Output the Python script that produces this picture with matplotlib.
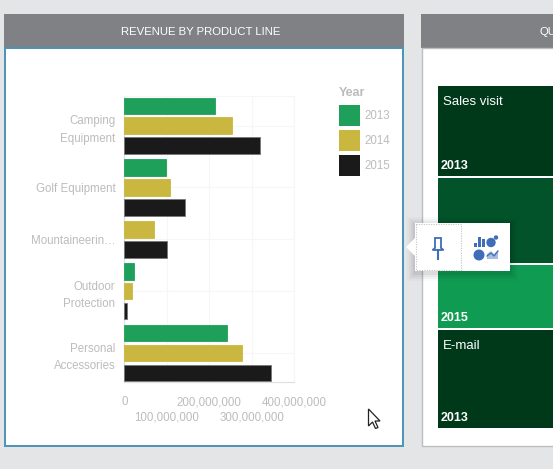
# Revenue by product line: dashboard screenshot with the bar widget in front
import numpy as np
import matplotlib
matplotlib.use('Agg')
import matplotlib.pyplot as plt
from matplotlib.patches import Rectangle, Polygon, Circle

plt.rcParams['font.family'] = ['Liberation Sans', 'DejaVu Sans']

# ── Data ─────────────────────────────────────────────────────
categories = ['Camping\nEquipment', 'Golf Equipment', 'Mountaineerin…',
              'Outdoor\nProtection', 'Personal\nAccessories']
years = ['2013', '2014', '2015']
rev_2013 = [213e6, 99e6, None, 24e6, 241e6]
rev_2014 = [255e6, 107e6, 69e6, 17e6, 277e6]
rev_2015 = [321e6, 143e6, 101e6, 7e6, 346e6]
x_ticks = [0, 100e6, 200e6, 300e6, 400e6]
x_labels = ['0', '100,000,000', '200,000,000', '300,000,000', '400,000,000']

# second widget, only its left edge is on screen
cell_labels = ['Sales visit', '', '', 'E-mail']
cell_years = ['2013', '', '2015', '2013']
cell_sizes = [90, 85, 63, 98]

# ── Colours ──────────────────────────────────────────────────
page_bg = '#e4e5e7'
header_bg = '#808184'
text_gray = '#bcbcbc'
year_colors = ['#1fa05a', '#c9b73f', '#1a1a1a']
year_edges = ['#1fa05a', '#c9b73f', '#777777']
cell_colors = ['#00391a', '#03532a', '#0f9c52', '#00391a']
icon_blue = '#3f6db8'

W, H = 553, 469
fig = plt.figure(figsize=(W / 100, H / 100), dpi=100, facecolor=page_bg)

# page layer works in screen pixels, y going down
page = fig.add_axes([0, 0, 1, 1])
page.set_xlim(0, W)
page.set_ylim(H, 0)
page.axis('off')

def rect(ax, x0, y0, x1, y1, color, **kw):
    ax.add_patch(Rectangle((x0, y0), x1 - x0, y1 - y0, facecolor=color,
                           edgecolor=kw.pop('edgecolor', 'none'), **kw))

# ── Left panel ───────────────────────────────────────────────
rect(page, 4, 14, 404, 48, header_bg)
rect(page, 5, 48.5, 403, 446, 'white', edgecolor='#4b93b5', linewidth=1.4)
page.text(201, 32, 'REVENUE BY PRODUCT LINE', color='white', fontsize=8.2,
          ha='center', va='center')

# ── Right panel ──────────────────────────────────────────────
rect(page, 421, 14, 560, 48, header_bg)
rect(page, 421.5, 48, 560, 446, 'white', edgecolor='#bcbec0', linewidth=1)
page.text(539.5, 32, 'QU', color='white', fontsize=8.2, va='center')

# treemap cells stacked down from the top of the widget
cell_top = 86
for label, year, size, color in zip(cell_labels, cell_years, cell_sizes, cell_colors):
    rect(page, 438, cell_top, 560, cell_top + size, color)
    if label:
        page.text(443, cell_top + 16, label, color='white', fontsize=9.5, va='center')
    if year:
        page.text(441, cell_top + size - 10, year, color='white', fontsize=9,
                  fontweight='bold', va='center')
    cell_top += size + 2

# ── Bar chart ────────────────────────────────────────────────
ax_left, ax_right, ax_top, ax_bottom = 124.3, 294, 96, 382
ax = fig.add_axes([ax_left / W, 1 - ax_bottom / H,
                   (ax_right - ax_left) / W, (ax_bottom - ax_top) / H])
ax.patch.set_alpha(0)

# groups have no slot for a missing year, so walk down bar by bar
series = [rev_2013, rev_2014, rev_2015]
pos = ax_top + 9.8
centers = []
for i in range(len(categories)):
    group = []
    for j, values in enumerate(series):
        if values[i] is None:
            continue
        ax.barh(pos, values[i], height=16.4, color=year_colors[j],
                edgecolor=year_edges[j], linewidth=0.6, zorder=3)
        group.append(pos)
        pos += 19.9
    centers.append(np.mean(group))
    pos += 2.1

ax.set_xlim(0, 400e6)
ax.set_ylim(ax_bottom, ax_top)
ax.set_yticks(centers)
ax.set_yticklabels(categories, color=text_gray, fontsize=8.3, linespacing=1.6)
ax.set_xticks(x_ticks)
ax.set_xticklabels(x_labels, color=text_gray, fontsize=8.3)
ax.tick_params(axis='y', length=0, pad=6.5)
ax.tick_params(axis='x', length=0)

# every second x label drops to a lower row
for k, tick in enumerate(ax.xaxis.get_major_ticks()):
    tick.set_pad(10.2 if k % 2 == 0 else 21.2)

ax.grid(color='#f6f6f6', linewidth=0.8, zorder=0)
ax.set_axisbelow(True)
for side in ['top', 'right']:
    ax.spines[side].set_color('#f6f6f6')
    ax.spines[side].set_linewidth(0.8)
for side in ['left', 'bottom']:
    ax.spines[side].set_color('#e0e0e0')
    ax.spines[side].set_linewidth(0.9)

# ── Legend ───────────────────────────────────────────────────
page.text(339, 93, 'Year', color=text_gray, fontsize=8.9, fontweight='bold', va='center')
for j, year in enumerate(years):
    rect(page, 339, 105 + 25 * j, 360, 126 + 25 * j, year_colors[j])
    page.text(364.5, 116 + 25 * j, year, color=text_gray, fontsize=8.3, va='center')

# ── Popover with pin and chart type icons ────────────────────
top = fig.add_axes([0, 0, 1, 1])
top.set_xlim(0, W)
top.set_ylim(H, 0)
top.axis('off')
top.patch.set_alpha(0)

# soft shadow
for grow, alpha in zip([8, 6, 4, 2], [0.02, 0.03, 0.04, 0.05]):
    rect(top, 415 - grow, 223 - grow + 2, 510 + grow, 271 + grow + 2, 'black', alpha=alpha)
rect(top, 415, 223, 510, 271, 'white')
top.add_patch(Polygon([[406, 247], [415, 238], [415, 256]], facecolor='white', edgecolor='none'))
rect(top, 415.5, 224.5, 461, 270.5, 'white', edgecolor='#c4c4c4',
     linewidth=0.8, linestyle=(0, (1, 1.2)))

# pin
top.add_patch(Polygon([[435, 238], [441, 238], [441, 248], [443.5, 250], [432.5, 250], [435, 248]],
                      facecolor='white', edgecolor=icon_blue, linewidth=1.3))
top.plot([438, 438], [250, 259], color=icon_blue, linewidth=1.5)

# chart type icon: bars, dot, pie and area
for bx, by in zip([473.5, 477.5, 481.5], [243, 237, 239]):
    rect(top, bx, by, bx + 3, 247, icon_blue)
top.add_patch(Circle((491, 242.5), 4, color=icon_blue))
top.add_patch(Circle((496, 237.5), 1.5, color=icon_blue))
top.add_patch(Circle((479, 255), 4.8, color=icon_blue))
top.add_patch(Polygon([[487, 259], [487, 254], [491, 251], [494, 254], [498, 250], [498, 259]],
                      facecolor='#a9bde0', edgecolor='none'))
top.plot([487, 491, 494, 498], [256, 253, 256, 251], color=icon_blue, linewidth=0.9)

# ── Mouse cursor ─────────────────────────────────────────────
top.add_patch(Polygon([[368.5, 409], [368.5, 426], [372.5, 422], [375.5, 428.5],
                       [378, 427.5], [375, 421], [380, 421]],
                      facecolor='white', edgecolor='#222222', linewidth=0.9))

fig.savefig('out.png', dpi=100, facecolor=page_bg)
